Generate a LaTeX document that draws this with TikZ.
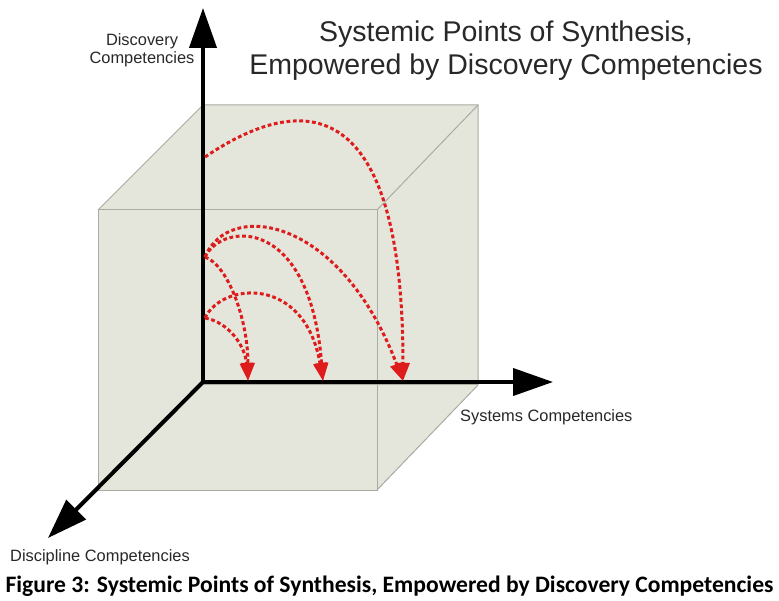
\documentclass[tikz,border=0pt]{standalone}
\usepackage{fontspec}
\setmainfont{Liberation Sans}
\newfontfamily\capfont{Carlito}
\usetikzlibrary{arrows.meta}
\definecolor{cubefill}{RGB}{228,230,220}
\definecolor{cubeedge}{RGB}{168,172,162}
\definecolor{arcred}{RGB}{222,28,28}
\definecolor{labelgray}{RGB}{40,40,40}
\tikzset{
  cubeline/.style={draw=cubeedge, line width=1pt},
  axis/.style={line width=4pt, -{Triangle[width=27pt,length=40pt]}},
  redarc/.style={draw=arcred, line width=3pt, dash pattern=on 3.8pt off 2.6pt,
     -{Triangle[width=13pt,length=18pt,fill=arcred]}},
  lbl/.style={text=labelgray, font=\fontsize{16.4}{18}\selectfont, align=center, inner sep=0pt},
}
\begin{document}
\begin{tikzpicture}[x=1pt,y=-1pt]
\useasboundingbox (0,0) rectangle (779,601);
\clip (0,0) rectangle (779,601);
\fill[white] (0,0) rectangle (779,601);
% cube
\fill[cubefill] (98,210) -- (203,105) -- (478,105) -- (478,385) -- (377,490) -- (98,490) -- cycle;
\draw[cubeline] (98,210) rectangle (377,490);
\draw[cubeline] (98,210) -- (203,105) -- (478,105) -- (478,385) -- (377,490);
\draw[cubeline] (377,210) -- (478,105);
\draw[cubeline] (203,385) -- (478,385);
% axes
\coordinate (O) at (203,382);
\coordinate (ztip) at (203,8);
\coordinate (xtip) at (553,382);
\coordinate (ytip) at (48,538);
\draw[axis] (O) -- (ztip);
\draw[axis] (O) -- (xtip);
\draw[axis] (O) -- (ytip);
% arc points
\coordinate (A) at (205,157);
\coordinate (B) at (205,257);
\coordinate (C) at (205,318);
\coordinate (E1) at (248,381);
\coordinate (E2) at (323,381);
\coordinate (E3) at (403,381);
\draw[redarc] (A) .. controls (295,96) and (403,82) .. (E3);
\draw[redarc] (B) .. controls (228,200) and (340,215) .. (E3);
\draw[redarc] (B) .. controls (222,222) and (310,215) .. (E2);
\draw[redarc] (B) .. controls (228,265) and (248,320) .. (E1);
\draw[redarc] (C) .. controls (222,282) and (305,275) .. (E2);
\draw[redarc] (C) .. controls (228,322) and (245,345) .. (E1);
% labels
\node[lbl] (zl) at (142,50) {Discovery\\Competencies};
\node[lbl, anchor=west] (xl) at (460,417) {Systems Competencies};
\node[lbl, anchor=west] (yl) at (10,557) {Discipline Competencies};
\node[text=labelgray, font=\fontsize{28.5}{33}\selectfont, align=center, inner sep=0pt] (title) at (506,51) {Systemic Points of Synthesis,\\Empowered by Discovery Competencies};
\node[font=\capfont\bfseries\fontsize{23.6}{26}\selectfont, anchor=base, inner sep=0pt] (cap) at (389.5,592) {Figure 3: Systemic Points of Synthesis, Empowered by Discovery Competencies};
\end{tikzpicture}
\end{document}
